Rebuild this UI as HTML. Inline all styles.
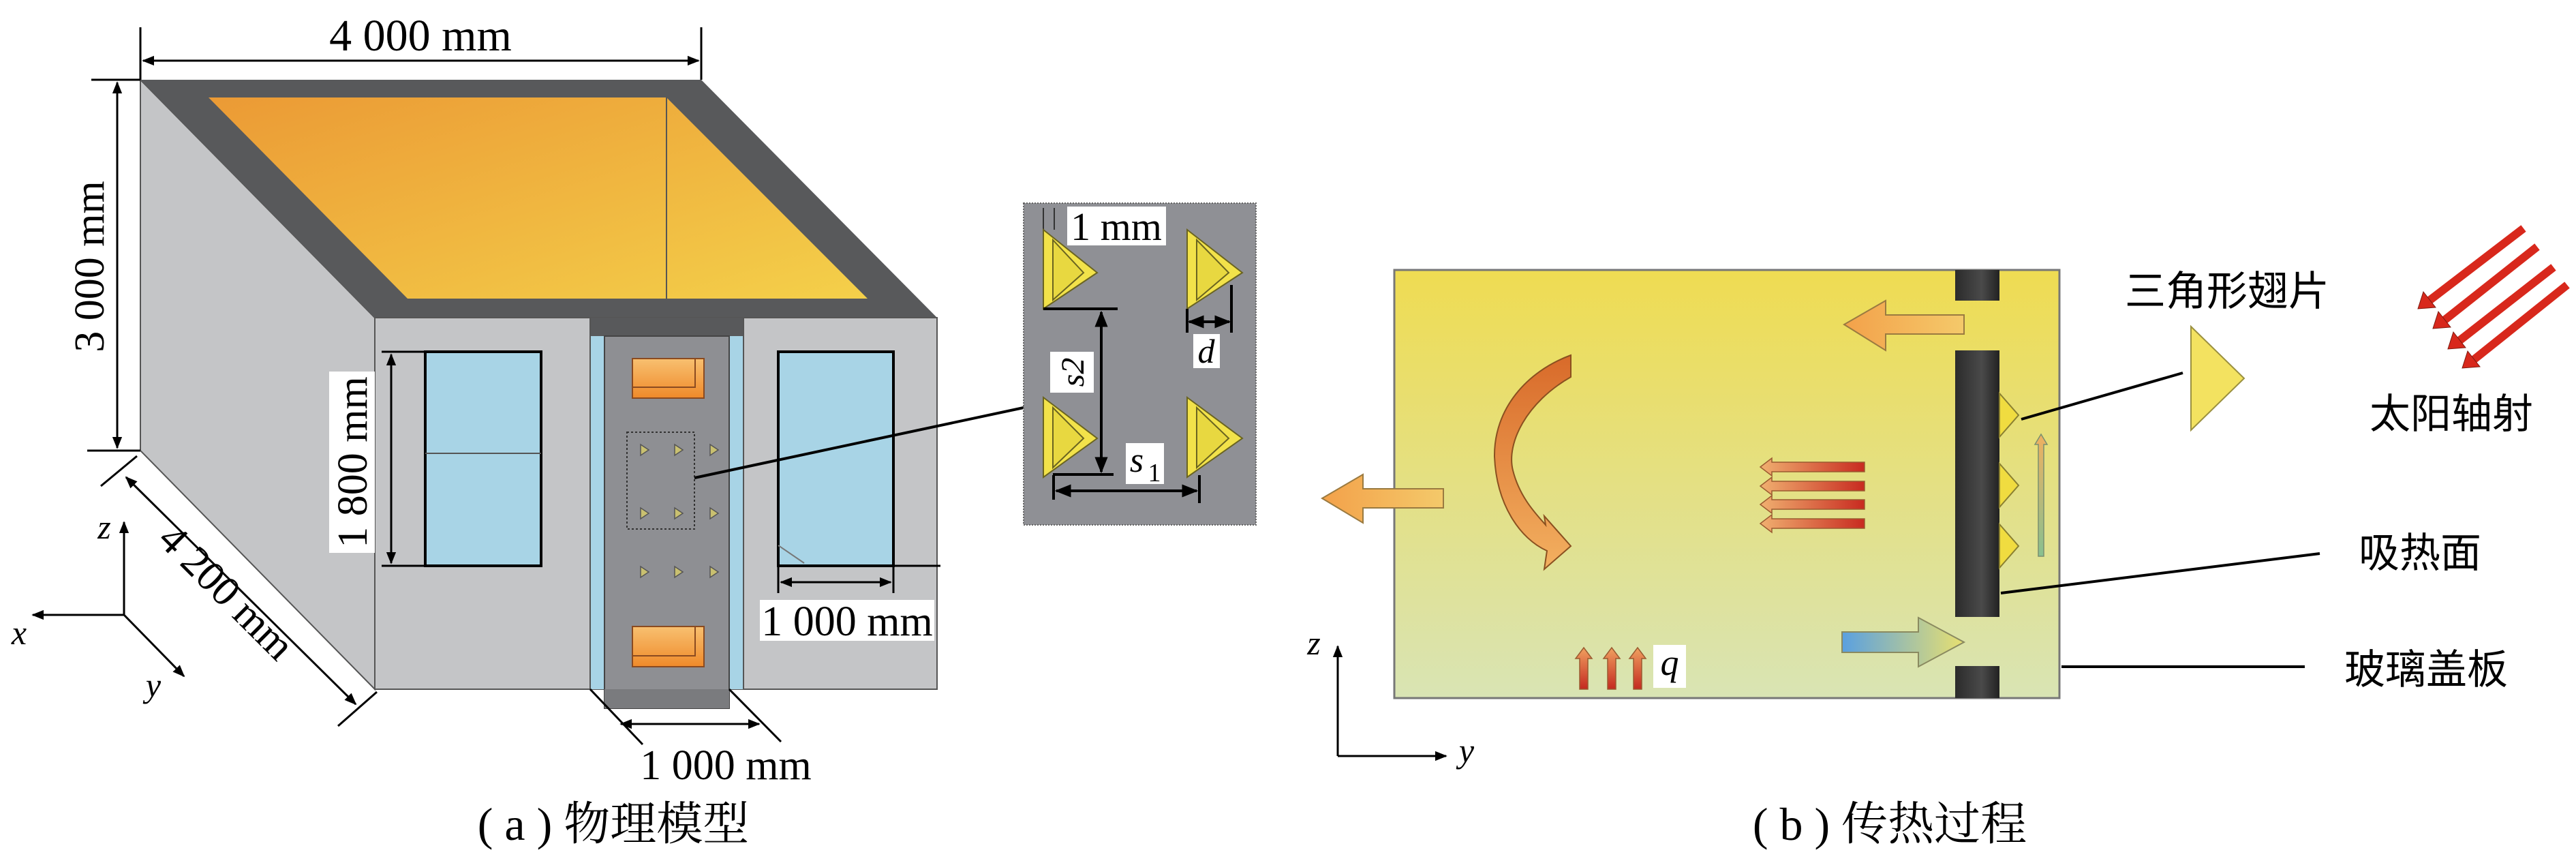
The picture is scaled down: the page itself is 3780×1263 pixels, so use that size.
<!DOCTYPE html>
<html><head><meta charset="utf-8"><style>
html,body{margin:0;padding:0;background:#fff}
svg{display:block}
.s{font-family:"Liberation Serif","Noto Serif CJK SC",serif}
.c{font-family:"Liberation Sans","Noto Sans CJK SC",sans-serif}
</style></head><body>
<svg width="3780" height="1263" viewBox="0 0 3780 1263" xmlns="http://www.w3.org/2000/svg">
<defs>
<marker id="ah" viewBox="0 0 10 10" refX="9" refY="5" markerWidth="6" markerHeight="6" orient="auto-start-reverse" markerUnits="strokeWidth"><path d="M0,1 L10,5 L0,9 Z" fill="#000"/></marker>
<linearGradient id="or" x1="0" y1="0" x2="1" y2="1"><stop offset="0" stop-color="#eb9a35"/><stop offset="1" stop-color="#f4d04a"/></linearGradient>
<linearGradient id="bg" x1="0" y1="0" x2="0" y2="1"><stop offset="0" stop-color="#efdc52"/><stop offset="1" stop-color="#d9e4b4"/></linearGradient>
<linearGradient id="bar" x1="0" y1="0" x2="1" y2="0"><stop offset="0" stop-color="#2b2b2b"/><stop offset="0.6" stop-color="#4a4a4a"/><stop offset="1" stop-color="#222"/></linearGradient>
<linearGradient id="oa" x1="1" y1="0" x2="0" y2="0"><stop offset="0" stop-color="#f4c96a"/><stop offset="1" stop-color="#f3a14a"/></linearGradient>
<linearGradient id="ra" x1="1" y1="0" x2="0" y2="0"><stop offset="0" stop-color="#c82a20"/><stop offset="1" stop-color="#f0b070"/></linearGradient>
<linearGradient id="qa" x1="0" y1="1" x2="0" y2="0"><stop offset="0" stop-color="#c42a20"/><stop offset="1" stop-color="#f0a060"/></linearGradient>
<linearGradient id="ba" x1="0" y1="0" x2="1" y2="0"><stop offset="0" stop-color="#5aa0e0"/><stop offset="1" stop-color="#e8e070"/></linearGradient>
<linearGradient id="ca" x1="0" y1="0" x2="0" y2="1"><stop offset="0" stop-color="#d86a2a"/><stop offset="1" stop-color="#f3b060"/></linearGradient>
<linearGradient id="ga" x1="0" y1="1" x2="0" y2="0"><stop offset="0" stop-color="#88c090"/><stop offset="1" stop-color="#f0b060"/></linearGradient>
<linearGradient id="ob" x1="0" y1="0" x2="0" y2="1"><stop offset="0" stop-color="#f8c070"/><stop offset="1" stop-color="#ef8a2a"/></linearGradient>
</defs>

<!-- ===== (a) ===== -->
<polygon points="206,117 550,466 550,1011 206,661" fill="#c4c5c7" stroke="#555" stroke-width="2"/>
<polygon points="206,117 1029,117 1375,466 550,466" fill="#58595b"/>
<polygon points="306,143 978,143 1273,438 598,438" fill="url(#or)"/>
<line x1="978" y1="143" x2="978" y2="438" stroke="#555" stroke-width="2"/>
<rect x="550" y="466" width="825" height="545" fill="#c4c5c7" stroke="#555" stroke-width="2"/>
<!-- notch -->
<rect x="866" y="466" width="225" height="545" fill="#a8d4e6"/>
<polygon points="866,466 1091,466 1091,493 866,493" fill="#58595b"/>
<rect x="887" y="493" width="183" height="546" fill="#8e8f93" stroke="#444" stroke-width="2"/>
<rect x="887" y="1011" width="183" height="28" fill="#7a7b7e"/>
<line x1="866" y1="466" x2="866" y2="1011" stroke="#555" stroke-width="2"/>
<line x1="1091" y1="466" x2="1091" y2="1011" stroke="#555" stroke-width="2"/>
<!-- orange blocks -->
<rect x="928" y="526" width="105" height="58" fill="url(#ob)" stroke="#8a4a20" stroke-width="2"/>
<polyline points="928,568 1020,568 1020,526" fill="none" stroke="#8a4a20" stroke-width="2"/>
<rect x="928" y="919" width="105" height="59" fill="url(#ob)" stroke="#8a4a20" stroke-width="2"/>
<polyline points="928,962 1020,962 1020,919" fill="none" stroke="#8a4a20" stroke-width="2"/>
<rect x="920" y="634" width="99" height="142" fill="none" stroke="#333" stroke-width="2" stroke-dasharray="3,3"/>
<g fill="#c9c070" stroke="#555" stroke-width="1.5">
<path d="M940,652 l12,8 l-12,8Z"/><path d="M990,652 l12,8 l-12,8Z"/><path d="M1042,652 l12,8 l-12,8Z"/>
<path d="M940,745 l12,8 l-12,8Z"/><path d="M990,745 l12,8 l-12,8Z"/><path d="M1042,745 l12,8 l-12,8Z"/>
<path d="M940,831 l12,8 l-12,8Z"/><path d="M990,831 l12,8 l-12,8Z"/><path d="M1042,831 l12,8 l-12,8Z"/>
</g>
<!-- windows -->
<rect x="624" y="516" width="170" height="314" fill="#a8d4e6" stroke="#000" stroke-width="4"/>
<line x1="624" y1="665" x2="794" y2="665" stroke="#555" stroke-width="2"/>
<rect x="1142" y="516" width="169" height="314" fill="#a8d4e6" stroke="#000" stroke-width="4"/>
<line x1="1142" y1="800" x2="1180" y2="826" stroke="#777" stroke-width="2"/>
<!-- dims -->
<line x1="206" y1="40" x2="206" y2="117" stroke="#000" stroke-width="3"/>
<line x1="1029" y1="40" x2="1029" y2="117" stroke="#000" stroke-width="3"/>
<line x1="210" y1="89" x2="1025" y2="89" stroke="#000" stroke-width="3" marker-start="url(#ah)" marker-end="url(#ah)"/>
<text x="617" y="74" class="s" font-size="66" text-anchor="middle">4 000 mm</text>
<line x1="134" y1="117" x2="206" y2="117" stroke="#000" stroke-width="3"/>
<line x1="128" y1="661" x2="206" y2="661" stroke="#000" stroke-width="3"/>
<line x1="172" y1="121" x2="172" y2="657" stroke="#000" stroke-width="3" marker-start="url(#ah)" marker-end="url(#ah)"/>
<text transform="translate(152,391) rotate(-90)" class="s" font-size="62" text-anchor="middle">3 000 mm</text>
<line x1="148" y1="713" x2="201" y2="669" stroke="#000" stroke-width="3"/>
<line x1="496" y1="1065" x2="553" y2="1015" stroke="#000" stroke-width="3"/>
<line x1="185" y1="700" x2="522" y2="1033" stroke="#000" stroke-width="3" marker-start="url(#ah)" marker-end="url(#ah)"/>
<text transform="translate(318,883) rotate(45)" class="s" font-size="62" text-anchor="middle">4 200 mm</text>
<rect x="483" y="545" width="67" height="266" fill="#fff"/>
<line x1="560" y1="516" x2="624" y2="516" stroke="#000" stroke-width="3"/>
<line x1="560" y1="830" x2="624" y2="830" stroke="#000" stroke-width="3"/>
<line x1="574" y1="520" x2="574" y2="826" stroke="#000" stroke-width="3" marker-start="url(#ah)" marker-end="url(#ah)"/>
<text transform="translate(538,678) rotate(-90)" class="s" font-size="62" text-anchor="middle">1 800 mm</text>
<line x1="1142" y1="830" x2="1142" y2="870" stroke="#000" stroke-width="3"/>
<line x1="1311" y1="830" x2="1311" y2="870" stroke="#000" stroke-width="3"/>
<line x1="1146" y1="854" x2="1307" y2="854" stroke="#000" stroke-width="3" marker-start="url(#ah)" marker-end="url(#ah)"/>
<line x1="1311" y1="830" x2="1380" y2="830" stroke="#000" stroke-width="3"/>
<rect x="1115" y="880" width="256" height="60" fill="#fff"/>
<text x="1243" y="932" class="s" font-size="62" text-anchor="middle">1 000 mm</text>
<line x1="866" y1="1011" x2="943" y2="1092" stroke="#000" stroke-width="3"/>
<line x1="1070" y1="1011" x2="1146" y2="1088" stroke="#000" stroke-width="3"/>
<line x1="911" y1="1062" x2="1114" y2="1062" stroke="#000" stroke-width="3" marker-start="url(#ah)" marker-end="url(#ah)"/>
<text x="1065" y="1143" class="s" font-size="62" text-anchor="middle">1 000 mm</text>
<!-- leader -->
<line x1="1019" y1="701" x2="1502" y2="598" stroke="#000" stroke-width="4"/>
<!-- axes a -->
<line x1="182" y1="902" x2="182" y2="766" stroke="#000" stroke-width="3" marker-end="url(#ah)"/>
<line x1="182" y1="902" x2="48" y2="902" stroke="#000" stroke-width="3" marker-end="url(#ah)"/>
<line x1="182" y1="902" x2="270" y2="992" stroke="#000" stroke-width="3" marker-end="url(#ah)"/>
<text x="153" y="790" class="s" font-size="50" font-style="italic" text-anchor="middle">z</text>
<text x="28" y="945" class="s" font-size="50" font-style="italic" text-anchor="middle">x</text>
<text x="225" y="1022" class="s" font-size="50" font-style="italic" text-anchor="middle">y</text>
<text x="900" y="1232" class="s" font-size="68" text-anchor="middle">( a ) 物理模型</text>

<!-- ===== inset ===== -->
<rect x="1502" y="298" width="341" height="472" fill="#8f9095" stroke="#666" stroke-width="2" stroke-dasharray="2,2"/>
<line x1="1531" y1="305" x2="1531" y2="337" stroke="#333" stroke-width="2"/>
<line x1="1547" y1="305" x2="1547" y2="337" stroke="#333" stroke-width="2"/>
<g fill="#f2e24a" stroke="#6a6420" stroke-width="2">
<path d="M1531,337 L1610,400 L1531,453 Z"/><path d="M1545,352 L1590,400 L1545,440 Z" fill="#e8d840"/>
<path d="M1742,337 L1823,400 L1742,453 Z"/><path d="M1756,352 L1803,400 L1756,440 Z" fill="#e8d840"/>
<path d="M1531,583 L1610,643 L1531,700 Z"/><path d="M1545,598 L1590,643 L1545,686 Z" fill="#e8d840"/>
<path d="M1742,583 L1823,643 L1742,700 Z"/><path d="M1756,598 L1803,643 L1756,686 Z" fill="#e8d840"/>
</g>
<rect x="1566" y="303" width="145" height="57" fill="#fff"/>
<text x="1638" y="352" class="s" font-size="58" text-anchor="middle">1 mm</text>
<line x1="1531" y1="453" x2="1640" y2="453" stroke="#000" stroke-width="4"/>
<line x1="1545" y1="696" x2="1634" y2="696" stroke="#000" stroke-width="4"/>
<line x1="1616" y1="458" x2="1616" y2="692" stroke="#000" stroke-width="4" marker-start="url(#ah)" marker-end="url(#ah)"/>
<rect x="1541" y="516" width="64" height="60" fill="#fff"/>
<text transform="translate(1590,546) rotate(-90)" class="s" font-size="48" font-style="italic" text-anchor="middle">s2</text>
<line x1="1742" y1="453" x2="1742" y2="488" stroke="#000" stroke-width="4"/>
<line x1="1807" y1="418" x2="1807" y2="488" stroke="#000" stroke-width="4"/>
<line x1="1745" y1="472" x2="1804" y2="472" stroke="#000" stroke-width="4" marker-start="url(#ah)" marker-end="url(#ah)"/>
<rect x="1751" y="490" width="39" height="50" fill="#fff"/>
<text x="1770" y="532" class="s" font-size="50" font-style="italic" text-anchor="middle">d</text>
<line x1="1546" y1="697" x2="1546" y2="733" stroke="#000" stroke-width="4"/>
<line x1="1760" y1="697" x2="1760" y2="738" stroke="#000" stroke-width="4"/>
<line x1="1550" y1="720" x2="1756" y2="720" stroke="#000" stroke-width="4" marker-start="url(#ah)" marker-end="url(#ah)"/>
<rect x="1652" y="650" width="56" height="60" fill="#fff"/>
<text x="1668" y="692" class="s" font-size="52" font-style="italic" text-anchor="middle">s</text>
<text x="1694" y="706" class="s" font-size="38" text-anchor="middle">1</text>

<!-- ===== (b) ===== -->
<rect x="2046" y="396" width="976" height="628" fill="url(#bg)" stroke="#777" stroke-width="3"/>
<rect x="2869" y="396" width="65" height="45" fill="url(#bar)"/>
<rect x="2869" y="514" width="65" height="391" fill="url(#bar)"/>
<rect x="2869" y="977" width="65" height="47" fill="url(#bar)"/>
<!-- fins on absorber -->
<g fill="#f0dc40" stroke="#8a8030" stroke-width="2">
<path d="M2934,577 L2962,609 L2934,641Z"/><path d="M2934,680 L2962,712 L2934,744Z"/><path d="M2934,769 L2962,801 L2934,833Z"/>
</g>
<!-- arrows -->
<path d="M2882,462 L2767,462 L2767,441 L2706,476 L2767,514 L2767,490 L2882,490 Z" fill="url(#oa)" stroke="#9a7a40" stroke-width="2"/>
<path d="M2118,717 L2000,717 L2000,696 L1940,731 L2000,767 L2000,745 L2118,745 Z" fill="url(#oa)" stroke="#9a7a40" stroke-width="2"/>
<path d="M2703,927 L2815,927 L2815,906 L2882,942 L2815,978 L2815,957 L2703,957 Z" fill="url(#ba)" stroke="#8a8a60" stroke-width="2"/>
<path d="M2305,521 L2305,553 C2240,590 2210,650 2220,690 C2230,730 2255,755 2268,770 L2266,757 L2305,801 L2266,835 L2270,808 C2230,790 2196,740 2193,670 C2192,600 2240,545 2305,521 Z" fill="url(#ca)" stroke="#8a5020" stroke-width="2"/>
<g stroke="#9a5a30" stroke-width="1.5">
<path d="M2736,678 L2600,678 L2600,672 L2583,685 L2600,698 L2600,692 L2736,692Z" fill="url(#ra)"/>
<path d="M2736,706 L2600,706 L2600,700 L2583,713 L2600,726 L2600,720 L2736,720Z" fill="url(#ra)"/>
<path d="M2736,733 L2600,733 L2600,727 L2583,740 L2600,753 L2600,747 L2736,747Z" fill="url(#ra)"/>
<path d="M2736,761 L2600,761 L2600,755 L2583,768 L2600,781 L2600,775 L2736,775Z" fill="url(#ra)"/>
<path d="M2318,1011 L2318,966 L2312,966 L2324,950 L2336,966 L2330,966 L2330,1011Z" fill="url(#qa)"/>
<path d="M2359,1011 L2359,966 L2353,966 L2365,950 L2377,966 L2371,966 L2371,1011Z" fill="url(#qa)"/>
<path d="M2397,1011 L2397,966 L2391,966 L2403,950 L2415,966 L2409,966 L2409,1011Z" fill="url(#qa)"/>
</g>
<path d="M2991,816 L2991,652 L2986,652 L2995,637 L3004,652 L2999,652 L2999,816Z" fill="url(#ga)" stroke="#7a9070" stroke-width="1.5"/>
<rect x="2426" y="946" width="48" height="63" fill="#fff"/>
<text x="2450" y="990" class="s" font-size="54" font-style="italic" text-anchor="middle">q</text>
<!-- big fin -->
<path d="M3215,479 L3293,555 L3215,631 Z" fill="#f3e260" stroke="#9a9040" stroke-width="2"/>
<line x1="2966" y1="615" x2="3203" y2="547" stroke="#000" stroke-width="4"/>
<line x1="2936" y1="870" x2="3404" y2="812" stroke="#000" stroke-width="4"/>
<line x1="3025" y1="978" x2="3382" y2="978" stroke="#000" stroke-width="4"/>
<text x="3268" y="448" class="c" font-size="60" text-anchor="middle">三角形翅片</text>
<text x="3597" y="628" class="c" font-size="60" text-anchor="middle">太阳轴射</text>
<text x="3551" y="832" class="c" font-size="60" text-anchor="middle">吸热面</text>
<text x="3560" y="1003" class="c" font-size="60" text-anchor="middle">玻璃盖板</text>
<!-- sun rays -->
<g stroke="#d8281c" stroke-width="12" fill="#d8281c">
<line x1="3703" y1="335" x2="3562" y2="443"/><line x1="3723" y1="362" x2="3584" y2="472"/>
<line x1="3747" y1="392" x2="3606" y2="502"/><line x1="3767" y1="418" x2="3627" y2="530"/>
</g>
<g fill="#d8281c" stroke="#7a1a10" stroke-width="1">
<path d="M3548,453 L3556,428 L3574,451Z"/><path d="M3570,482 L3578,457 L3596,480Z"/>
<path d="M3592,512 L3600,487 L3618,510Z"/><path d="M3613,540 L3621,515 L3639,538Z"/>
</g>
<!-- axes b -->
<line x1="1963" y1="1109" x2="1963" y2="948" stroke="#000" stroke-width="3" marker-end="url(#ah)"/>
<line x1="1963" y1="1109" x2="2122" y2="1109" stroke="#000" stroke-width="3" marker-end="url(#ah)"/>
<text x="1928" y="960" class="s" font-size="50" font-style="italic" text-anchor="middle">z</text>
<text x="2152" y="1118" class="s" font-size="50" font-style="italic" text-anchor="middle">y</text>
<text x="2773" y="1232" class="s" font-size="68" text-anchor="middle">( b ) 传热过程</text>
</svg>
</body></html>
